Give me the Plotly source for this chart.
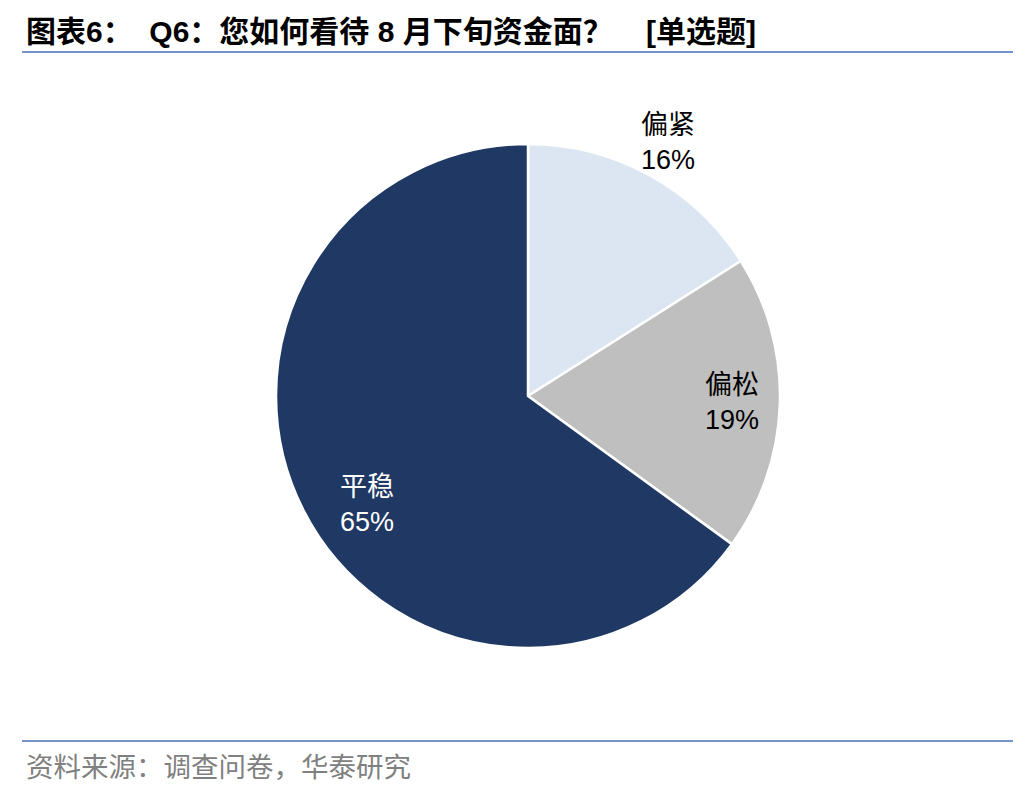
import math

import plotly.graph_objects as go

labels = ["偏紧", "偏松", "平稳"]
shares = [16, 19, 65]
colors = ["#DCE6F2", "#BFBFBF", "#1F3864"]
text_colors = ["#000000", "#000000", "#FFFFFF"]
label_radius = [1.15, 0.81, 0.773]  # fraction of pie radius for each data label
label_shift = [0, 0, -7]  # degrees, nudges off the slice mid-angle

title = "图表6：  Q6：您如何看待 8 月下旬资金面？    [单选题]"
source = "资料来源：调查问卷，华泰研究"

W, H = 1036, 792
# pie geometry in figure pixels (the page adds an 8px body margin)
cx, cy, r = 520, 388, 252

fig = go.Figure(
    go.Pie(
        labels=labels,
        values=shares,
        sort=False,
        direction="clockwise",
        rotation=0,
        marker=dict(colors=colors, line=dict(color="white", width=2.5)),
        textinfo="none",
        showlegend=False,
        hoverinfo="label+percent",
        domain=dict(x=[(cx - r) / W, (cx + r) / W], y=[1 - (cy + r) / H, 1 - (cy - r) / H]),
    )
)

# data labels near each slice's mid-angle
total = sum(shares)
cum = 0
for lab, val, col, f, sh in zip(labels, shares, text_colors, label_radius, label_shift):
    mid = (cum + val / 2) / total * 2 * math.pi + math.radians(sh)
    cum += val
    px_x = cx + f * r * math.sin(mid)
    px_y = cy - f * r * math.cos(mid)
    fig.add_annotation(
        text=f"{lab}<br>{val}%", xref="paper", yref="paper",
        x=px_x / W, y=1 - px_y / H, xanchor="center", yanchor="middle",
        showarrow=False, align="center",
        font=dict(family="Liberation Sans, Noto Sans CJK SC", size=27, color=col),
    )

# header and footer rules
for y in (44, 733):
    fig.add_shape(type="line", xref="paper", yref="paper", x0=14 / W, x1=1005 / W,
                  y0=1 - y / H, y1=1 - y / H, line=dict(color="#7394C4", width=2))

fig.add_annotation(text="<b>" + title + "</b>", xref="paper", yref="paper",
                   x=16 / W, y=1 - 24 / H, xanchor="left", yanchor="middle",
                   showarrow=False,
                   font=dict(family="Liberation Sans, Noto Sans CJK SC", size=30, color="#000000"))
fig.add_annotation(text=source, xref="paper", yref="paper",
                   x=16 / W, y=1 - 757 / H, xanchor="left", yanchor="middle",
                   showarrow=False,
                   font=dict(family="Noto Sans CJK SC", size=27.5, color="#808080"))

fig.update_layout(
    width=W, height=H,
    margin=dict(l=0, r=0, t=0, b=0),
    paper_bgcolor="white",
    plot_bgcolor="white",
)

fig.write_html("out.html")
